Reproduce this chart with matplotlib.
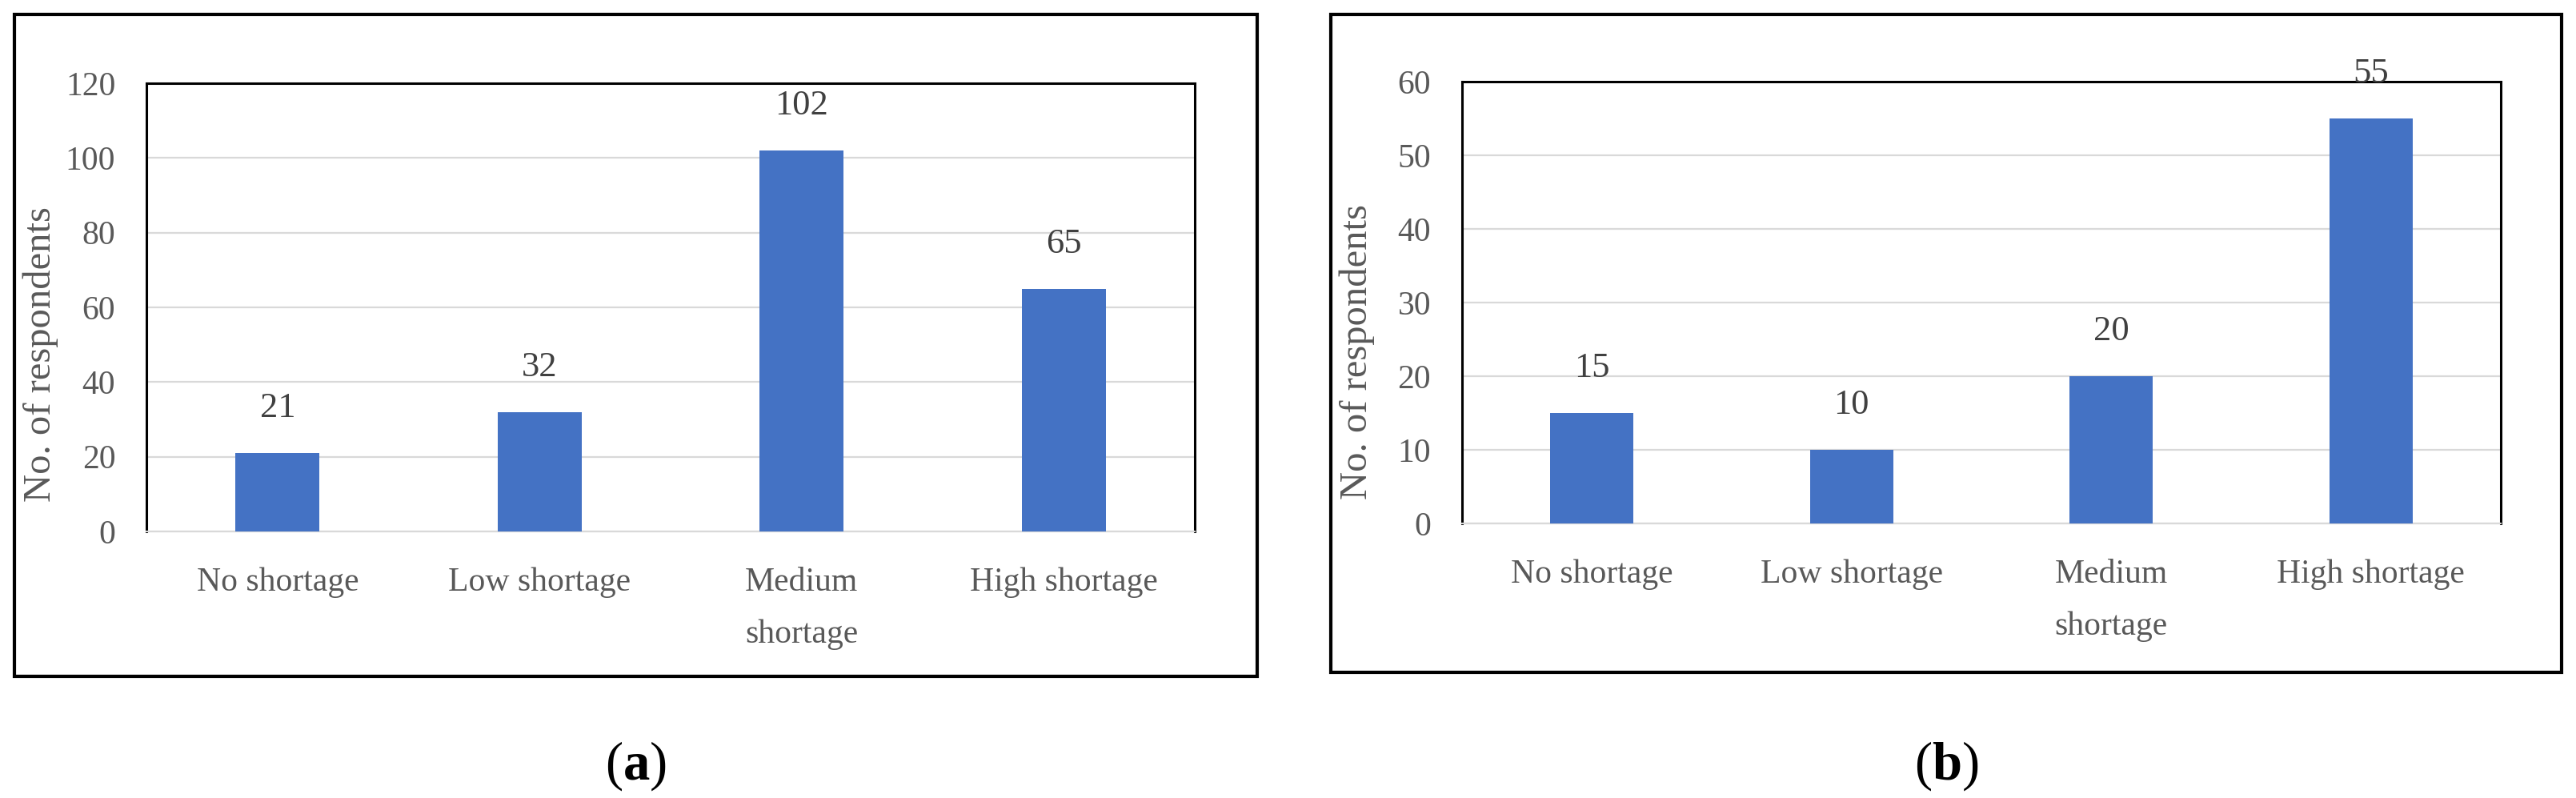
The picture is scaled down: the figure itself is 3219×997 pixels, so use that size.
"""
Bar charts of the number of respondents per shortage level
"""

###############
# - IMPORTS - #
###############

import matplotlib.pyplot as plt
from matplotlib.patches import Rectangle

############
# - DATA - #
############

categories = ["No shortage", "Low shortage", "Medium\nshortage", "High shortage"]
values_a = [21, 32, 102, 65]
values_b = [15, 10, 20, 55]
yticks_a = [0, 20, 40, 60, 80, 100, 120]
yticks_b = [0, 10, 20, 30, 40, 50, 60]

# Style
BAR_COLOR = "#4472C4"
GRID_COLOR = "#d9d9d9"
TICK_COLOR = "#595959"
LABEL_COLOR = "#404040"
FONT = "Liberation Serif"

plt.rcParams["font.family"] = FONT
plt.rcParams["mathtext.fontset"] = "custom"
plt.rcParams["mathtext.rm"] = FONT
plt.rcParams["mathtext.bf"] = FONT + ":bold"


#################
# - FUNCTIONS - #
#################


def plot_panel(fig, rect, box, values, yticks, letter, label_y):
    """
    Draw one panel: outer frame, bar chart and caption letter
    """
    # Outer frame
    fig.add_artist(
        Rectangle(
            (box[0], box[1]),
            box[2] - box[0],
            box[3] - box[1],
            transform=fig.transFigure,
            fill=False,
            edgecolor="black",
            linewidth=3.0,
        )
    )

    ax = fig.add_axes(rect)
    x = range(len(categories))
    ax.bar(x, values, width=0.32, color=BAR_COLOR, zorder=3)

    # Data labels
    for xi, v in zip(x, values):
        ax.annotate(
            str(v),
            (xi, v),
            xytext=(0, 40),
            textcoords="offset points",
            ha="center",
            va="center",
            fontsize=32,
            color=LABEL_COLOR,
        )

    # Formating the axes
    ax.set_xlim(-0.5, len(categories) - 0.5)
    ax.set_ylim(yticks[0], yticks[-1])
    ax.set_yticks(yticks)
    ax.set_xticks(list(x))
    ax.set_xticklabels(categories, linespacing=1.9)
    ax.tick_params(axis="y", length=0, pad=28, labelsize=30, labelcolor=TICK_COLOR)
    ax.tick_params(axis="x", length=0, pad=32, labelsize=30, labelcolor=TICK_COLOR)
    ax.yaxis.grid(True, color=GRID_COLOR, linewidth=1.6, zorder=0)
    ax.set_axisbelow(True)

    for side in ["left", "top", "right"]:
        ax.spines[side].set_color("black")
        ax.spines[side].set_linewidth(2.2)
    ax.spines["bottom"].set_color(GRID_COLOR)
    ax.spines["bottom"].set_linewidth(1.6)

    ax.set_ylabel("No. of respondents", fontsize=35, color=TICK_COLOR)
    ax.yaxis.set_label_coords(-0.084, label_y)

    # Caption
    fig.text(
        (box[0] + box[2]) / 2,
        0.04,
        "($\\mathbf{" + letter + "}$)",
        ha="center",
        va="center",
        fontsize=48,
        color="black",
    )
    return ax


############
# - MAIN - #
############

fig = plt.figure(figsize=(32.19, 9.97), dpi=100)

plot_panel(
    fig,
    [0.0569, 0.334, 0.4069, 0.5617],
    [0.0056, 0.1525, 0.488, 0.982],
    values_a,
    yticks_a,
    "a",
    0.396,
)
plot_panel(
    fig,
    [0.5676, 0.344, 0.4032, 0.5537],
    [0.5166, 0.1575, 0.9944, 0.982],
    values_b,
    yticks_b,
    "b",
    0.388,
)

fig.savefig("out.png", dpi=100)
